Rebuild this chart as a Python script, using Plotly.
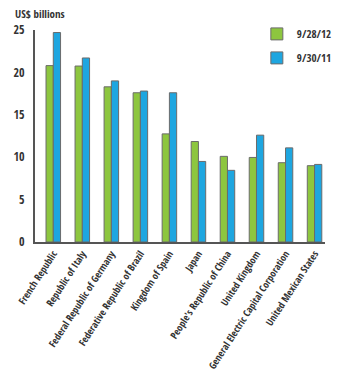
import plotly.graph_objects as go

categories = ["French Republic", "Republic of Italy", "Federal Republic of Germany",
              "Federative Republic of Brazil", "Kingdom of Spain", "Japan",
              "People's Republic of China", "United Kingdom",
              "General Electric Capital Corporation", "United Mexican States"]
s2012 = [20.8, 20.75, 18.3, 17.6, 12.75, 11.85, 10.1, 9.97, 9.35, 9.0]
s2011 = [24.7, 21.7, 19.0, 17.8, 17.6, 9.5, 8.45, 12.6, 11.1, 9.15]
name2012 = "9/28/12"
name2011 = "9/30/11"

font_family = "Open Sans Condensed, Roboto Condensed, sans-serif"

fig = go.Figure()
fig.add_trace(go.Bar(x=categories, y=s2012, name=name2012, legendgroup="a",
                     marker=dict(color="#8dc63f", line=dict(color="#6b6b6b", width=1))))
fig.add_trace(go.Bar(x=categories, y=s2011, name=name2011, legendgroup="b",
                     marker=dict(color="#1ea6e0", line=dict(color="#6b6b6b", width=1))))

fig.update_layout(
    width=349, height=375,
    margin=dict(l=35, r=15, t=30, b=133),
    paper_bgcolor="white", plot_bgcolor="white",
    barmode="group", bargap=0.5, bargroupgap=0.0,
    font=dict(family=font_family, color="#333333", size=10, weight="bold"),
    showlegend=True,
    legend=dict(x=0.765, y=1.05, xanchor="left", yanchor="top",
                traceorder="grouped", tracegroupgap=5,
                font=dict(size=11, family=font_family, color="#333333", weight="bold"),
                bgcolor="rgba(0,0,0,0)"),
    xaxis=dict(range=[-0.63, 9.36], tickangle=-57, showgrid=False, automargin=False,
               showline=True, linecolor="#555555", linewidth=2,
               ticks="", tickfont=dict(size=10, family=font_family, color="#333333", weight="bold"),
               fixedrange=True),
    yaxis=dict(range=[0, 25], tickvals=[0, 5, 10, 15, 20, 25], showgrid=False, automargin=False,
               zeroline=False, showline=True, linecolor="#555555", linewidth=2,
               ticks="", ticklabelstandoff=6,
               tickfont=dict(size=12, family=font_family, color="#333333", weight="bold")),
    annotations=[dict(text="US$ billions", xref="paper", yref="paper",
                      x=-0.077, y=1.125, xanchor="left", yanchor="top",
                      showarrow=False,
                      font=dict(size=11, family=font_family, color="#333333", weight="bold"))],
)

fig.write_html("out.html")
